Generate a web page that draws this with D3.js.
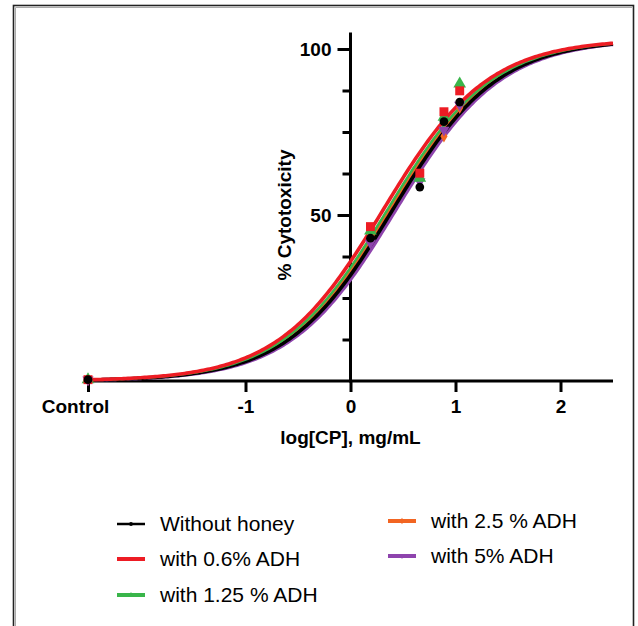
<!DOCTYPE html>
<html>
<head>
<meta charset="utf-8">
<script src="https://cdn.jsdelivr.net/npm/d3@7"></script>
<style>
  body { margin: 0; background: #fff; }
  svg { display: block; font-family: "Liberation Sans", Arial, sans-serif; }
  .tick-label { font-weight: bold; font-size: 19px; fill: #000; }
</style>
</head>
<body>
<svg id="chart" width="638" height="626"></svg>
<script>
// series names, colours and symbols
const seriesNames = ['Without honey', 'with 0.6% ADH', 'with 1.25 % ADH', 'with 2.5 % ADH', 'with 5% ADH'];
const seriesColors = ['#000000', '#ed1c24', '#39b54a', '#f26522', '#8e44ad'];

// log[CP] of measured points (control plotted at -2.5)
const xPoints = [-2.5, 0.19, 0.66, 0.89, 1.04];

// % cytotoxicity
const withoutHoney = [0.4, 43.0, 58.4, 78.1, 84.0];
const adh06 = [0.4, 46.5, 62.6, 81.1, 87.4];
const adh125 = [0.4, 45.2, 61.1, 79.5, 89.5];
const adh25 = [0.4, 44.0, 60.5, 73.7, 82.3];
const adh5 = [0.4, 41.6, 60.1, 75.6, 83.1];

// fitted dose-response curves (4PL), one entry per series
const fitBottom = [0, 0, 0, 0, 0];
const fitTop = [103, 103, 103, 103, 103];
const fitLogEC50 = [0.40, 0.31, 0.35, 0.37, 0.43];
const fitHill = [0.87, 0.87, 0.87, 0.87, 0.87];

// axis ticks
const xTickValues = [-2.5, -1, 0, 1, 2];
const xTickLabels = ['Control', '-1', '0', '1', '2'];
const yMajorTicks = [50, 100];
const yMinorTicks = [12.5, 25, 37.5, 62.5, 75, 87.5];

const pointValues = [withoutHoney, adh06, adh125, adh25, adh5];

const svg = d3.select('#chart');

// outer frame
svg.append('rect')
  .attr('x', 13.5).attr('y', 5.5)
  .attr('width', 620).attr('height', 700)
  .attr('fill', 'none')
  .attr('stroke', '#222')
  .attr('stroke-width', 1.6);
svg.append('path')
  .attr('d', 'M15.5,640V7.5H632')
  .attr('fill', 'none')
  .attr('stroke', '#aaa')
  .attr('stroke-width', 1);

const x = d3.scaleLinear().domain([-2.5, 2.5]).range([88, 613]);
const y = d3.scaleLinear().domain([0, 100]).range([381, 49]);

const axisColor = '#000';

// x axis
const xAxis = svg.append('g')
  .attr('transform', `translate(0,${y(0)})`)
  .call(d3.axisBottom(x)
    .tickValues(xTickValues)
    .tickSize(11)
    .tickPadding(8)
    .tickFormat((d, i) => xTickLabels[i]));
xAxis.select('.domain').remove();
xAxis.selectAll('.tick line').attr('stroke', axisColor).attr('stroke-width', 3);
xAxis.selectAll('.tick text')
  .attr('class', 'tick-label')
  .attr('font-family', null).attr('font-size', null)
  .attr('dx', (d) => d === -2.5 ? -13 : 0);
svg.append('line')
  .attr('x1', x(-2.5) - 2).attr('x2', x(2.5))
  .attr('y1', y(0)).attr('y2', y(0))
  .attr('stroke', axisColor).attr('stroke-width', 3);

// y axis (crosses at log = 0)
const yAxisMinor = svg.append('g')
  .attr('transform', `translate(${x(0)},0)`)
  .call(d3.axisLeft(y).tickValues(yMinorTicks).tickSize(8).tickFormat(''));
yAxisMinor.select('.domain').remove();
yAxisMinor.selectAll('.tick line').attr('stroke', axisColor).attr('stroke-width', 3);

const yAxisMajor = svg.append('g')
  .attr('transform', `translate(${x(0)},0)`)
  .call(d3.axisLeft(y).tickValues(yMajorTicks).tickSize(13).tickPadding(6));
yAxisMajor.select('.domain').remove();
yAxisMajor.selectAll('.tick line').attr('stroke', axisColor).attr('stroke-width', 3);
yAxisMajor.selectAll('.tick text')
  .attr('class', 'tick-label')
  .attr('font-family', null).attr('font-size', null);

svg.append('line')
  .attr('x1', x(0)).attr('x2', x(0))
  .attr('y1', y(0) + 1.5).attr('y2', y(105))
  .attr('stroke', axisColor).attr('stroke-width', 3);

// axis titles
svg.append('text')
  .attr('class', 'tick-label')
  .attr('x', x(0)).attr('y', 444)
  .attr('text-anchor', 'middle')
  .text('log[CP], mg/mL');

svg.append('text')
  .attr('class', 'tick-label')
  .attr('transform', `translate(291,${y(50)}) rotate(-90)`)
  .attr('text-anchor', 'middle')
  .text('% Cytotoxicity');

// fitted curves
function fit(i, lx) {
  return fitBottom[i] + (fitTop[i] - fitBottom[i]) / (1 + Math.pow(10, (fitLogEC50[i] - lx) * fitHill[i]));
}
const xs = d3.range(-2.5, 2.5001, 0.02);
const line = d3.line().x((d) => x(d[0])).y((d) => y(d[1]));

const curveOrder = [4, 3, 0, 2, 1];
const curveWidth = [3.6, 3.6, 2.6, 3.2, 3.6];
curveOrder.forEach((i) => {
  svg.append('path')
    .datum(xs.map((lx) => [lx, fit(i, lx)]))
    .attr('d', line)
    .attr('fill', 'none')
    .attr('stroke', seriesColors[i])
    .attr('stroke-width', curveWidth[i]);
});

// data points
const symbolTypes = [d3.symbolCircle, d3.symbolSquare, d3.symbolTriangle, d3.symbolDiamond, d3.symbolTriangle];
const symbolSizes = [60, 80, 70, 45, 55];
const symbolRotate = [0, 0, 0, 0, 180];
const pointOrder = [3, 4, 2, 1, 0];

pointOrder.forEach((i) => {
  svg.append('g')
    .selectAll('path')
    .data(xPoints.map((lx, j) => [lx, pointValues[i][j]]))
    .enter().append('path')
    .attr('d', d3.symbol().type(symbolTypes[i]).size(symbolSizes[i]))
    .attr('transform', (d) => `translate(${x(d[0])},${y(d[1])}) rotate(${symbolRotate[i]})`)
    .attr('fill', seriesColors[i]);
});

// legend
const legendPos = [
  { x: 117, y: 524 }, { x: 117, y: 559 }, { x: 117, y: 595 },
  { x: 388, y: 521 }, { x: 388, y: 556 }
];
const legend = svg.append('g')
  .selectAll('g')
  .data(seriesNames)
  .enter().append('g')
  .attr('transform', (d, i) => `translate(${legendPos[i].x},${legendPos[i].y})`);

legend.append('line')
  .attr('x1', 0).attr('x2', 28)
  .attr('stroke', (d, i) => seriesColors[i])
  .attr('stroke-width', (d, i) => i === 0 ? 2.5 : 4);

legend.append('path')
  .attr('d', (d, i) => d3.symbol().type(symbolTypes[i]).size(12)())
  .attr('transform', (d, i) => `translate(14,0) rotate(${symbolRotate[i]})`)
  .attr('fill', (d, i) => seriesColors[i]);

legend.append('text')
  .attr('x', 43)
  .attr('dy', '0.35em')
  .attr('font-size', 21)
  .attr('fill', '#000')
  .text((d) => d);
</script>
</body>
</html>
